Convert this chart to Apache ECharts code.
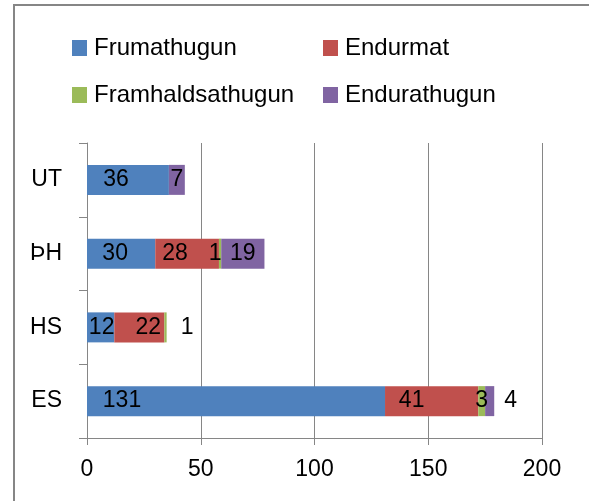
<!DOCTYPE html>
<html>
<head>
    <meta charset="UTF-8">
    <title>Athuganir</title>
    <script src="https://cdn.jsdelivr.net/npm/echarts@6/dist/echarts.min.js"></script>
    <style>
        html, body { margin: 0; padding: 0; background: #fff; }
        #chart { width: 589px; height: 501px; }
    </style>
</head>
<body>
<div id="chart"></div>
<script type="text/javascript">
    // flokkar, nedst upp
    var categories = ['ES', 'HS', 'ÞH', 'UT'];
    var xTicks = [0, 50, 100, 150, 200];

    var frumathugun      = [131, 12, 30, 36];
    var endurmat         = [41, 22, 28, 0];
    var framhaldsathugun = [3, 1, 1, 0];
    var endurathugun     = [4, 0, 19, 7];

    var seriesNames = ['Frumathugun', 'Endurmat', 'Framhaldsathugun', 'Endurathugun'];
    var seriesData = [frumathugun, endurmat, framhaldsathugun, endurathugun];
    var colors = ['#4F81BD', '#C0504D', '#9BBB59', '#8064A2'];

    // hlidrun merkja eins og i frumriti (px), per flokk
    var labelShift = [
        [-114, 1, -6, -12],
        [-20, 9, -12, 0],
        [0, 0, -5, 0],
        [0, 0, 0, 0]
    ];
    // merki sem standa utan vid stongina
    var outside = { '3_0': 10, '2_1': 14 };

    var font = '"Liberation Sans", Arial, sans-serif';
    var gray = '#868686';

    var chart = echarts.init(document.getElementById('chart'));

    var series = seriesNames.map(function (name, s) {
        return {
            name: name,
            type: 'bar',
            stack: 'total',
            barWidth: 30,
            itemStyle: { color: colors[s] },
            data: seriesData[s].map(function (v, c) {
                var key = s + '_' + c;
                var lab;
                if (v === 0) {
                    lab = { show: false };
                } else if (outside[key] !== undefined) {
                    lab = { show: true, position: 'right', distance: outside[key] };
                } else {
                    lab = { show: true, position: 'inside', offset: [labelShift[s][c], 0] };
                }
                return { value: v, label: lab };
            }),
            label: {
                color: '#000',
                fontFamily: font,
                fontSize: 23
            }
        };
    });

    var legendPos = [[72, 36], [323, 36], [72, 83], [323, 83]];
    var legends = seriesNames.map(function (name, i) {
        return {
            data: [name],
            left: legendPos[i][0],
            top: legendPos[i][1],
            icon: 'rect',
            itemWidth: 15,
            itemHeight: 16,
            itemGap: 0,
            padding: 0,
            selectedMode: false,
            textStyle: { fontFamily: font, fontSize: 24, color: '#000', lineHeight: 16, padding: [0, 0, 0, 2] }
        };
    });

    chart.setOption({
        animation: false,
        backgroundColor: '#fff',
        legend: legends,
        graphic: [{
            type: 'rect',
            shape: { x: 14, y: 5, width: 600, height: 520 },
            style: { fill: 'none', stroke: gray, lineWidth: 2 },
            silent: true
        }],
        grid: { left: 87, right: 47, top: 143, bottom: 63, containLabel: false },
        xAxis: {
            type: 'value',
            min: xTicks[0],
            max: xTicks[xTicks.length - 1],
            interval: xTicks[1] - xTicks[0],
            axisLine: { show: true, lineStyle: { color: gray, width: 1 } },
            axisTick: { show: true, length: 7, lineStyle: { color: gray } },
            splitLine: { show: true, lineStyle: { color: gray, width: 1 } },
            axisLabel: { color: '#000', fontFamily: font, fontSize: 23, margin: 20 }
        },
        yAxis: {
            type: 'category',
            data: categories,
            axisLine: { show: true, lineStyle: { color: gray, width: 1 } },
            axisTick: { show: true, length: 8, alignWithLabel: false, lineStyle: { color: gray } },
            axisLabel: { color: '#000', fontFamily: font, fontSize: 23, margin: 25 }
        },
        series: series
    });
</script>
</body>
</html>
